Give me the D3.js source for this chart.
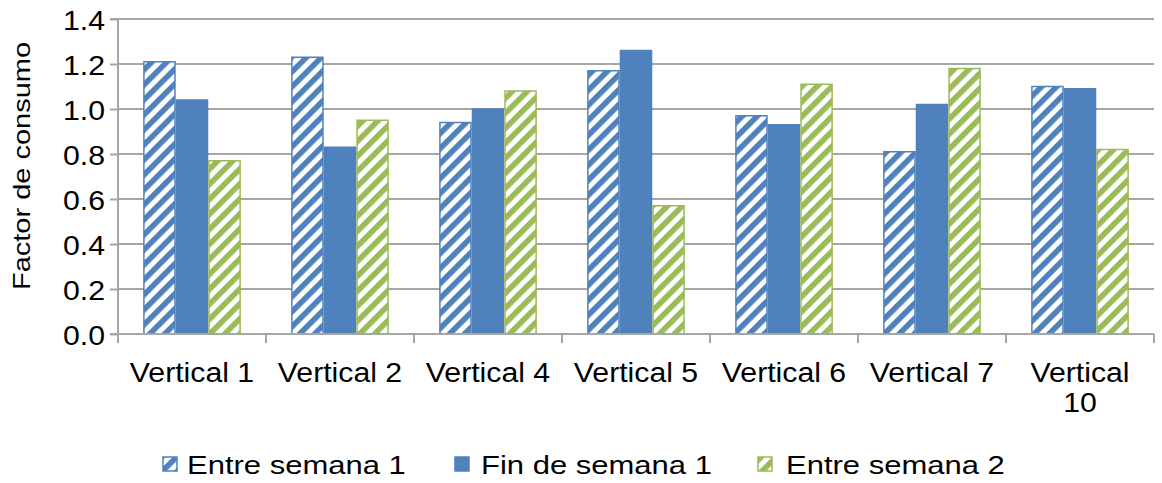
<!DOCTYPE html>
<html><head><meta charset="utf-8">
<script src="https://cdn.jsdelivr.net/npm/d3@7"></script>
<style>body{margin:0;background:#fff}svg{display:block}text{font-family:"Liberation Sans",Arial,sans-serif;fill:#000}</style>
</head><body><svg id="c" width="1162" height="483"></svg>
<script>
const categories = ["Vertical 1","Vertical 2","Vertical 4","Vertical 5","Vertical 6","Vertical 7","Vertical 10"];
const seriesNames = ["Entre semana 1","Fin de semana 1","Entre semana 2"];
const entreSemana1 = [1.21,1.23,0.94,1.17,0.97,0.81,1.10];
const finDeSemana1 = [1.04,0.83,1.00,1.26,0.93,1.02,1.09];
const entreSemana2 = [0.77,0.95,1.08,0.57,1.11,1.18,0.82];
const yTicks = [0,0.2,0.4,0.6,0.8,1.0,1.2,1.4];
const seriesValues = [entreSemana1, finDeSemana1, entreSemana2];

const BLUE = "#4F81BD", GREEN = "#9BBB59", GRID = "#A6A6A6";
const svg = d3.select("#c");
const L = 118, R = 1154, T = 19, B = 334;
const SX = 1.1;

const defs = svg.append("defs");
function hatch(id, color){
  const p = defs.append("pattern").attr("id", id).attr("patternUnits","userSpaceOnUse")
    .attr("width", 10.6).attr("height", 10.6).attr("patternTransform","rotate(45)");
  p.append("rect").attr("width",10.6).attr("height",10.6).attr("fill","#fff");
  p.append("rect").attr("x",0).attr("width",5.6).attr("height",10.6).attr("fill",color);
}
hatch("hb", BLUE); hatch("hg", GREEN);
const fills = ["url(#hb)", BLUE, "url(#hg)"];
const strokes = [BLUE, BLUE, GREEN];

const y = d3.scaleLinear().domain([0,1.4]).range([B,T]);
const x0 = d3.scaleBand().domain(categories).range([L,R]).padding(0);
const x1 = d3.scaleBand().domain(d3.range(3)).range([x0.bandwidth()*0.17, x0.bandwidth()*0.83]).padding(0);

// gridlines
svg.append("g").selectAll("line").data(yTicks.slice(1)).join("line")
  .attr("x1",L).attr("x2",R).attr("y1",d=>y(d)).attr("y2",d=>y(d))
  .attr("stroke",GRID).attr("stroke-width",2);

// y axis
const ya = svg.append("g").attr("transform",`translate(${L},0)`)
  .call(d3.axisLeft(y).tickValues(yTicks).tickFormat(d3.format(".1f")).tickSize(8).tickPadding(0));
ya.select(".domain").attr("stroke",GRID).attr("stroke-width",2).attr("d",`M-8,${T}H0V${B}H-8`);
ya.selectAll(".tick line").attr("stroke",GRID).attr("stroke-width",2);
ya.selectAll(".tick text").each(function(d){
  const t = d3.select(this);
  t.attr("x",null).attr("dy",null).attr("text-anchor","end").attr("fill","#000")
   .attr("font-size",27.5).attr("transform",`translate(-13,${10}) scale(${SX},1)`);
});

// bars
const g = svg.append("g");
categories.forEach((c,i)=>{
  seriesValues.forEach((vals,s)=>{
    g.append("rect")
      .attr("x", x0(c)+x1(s)+0.75).attr("width", x1.bandwidth()-1.5)
      .attr("y", y(vals[i])).attr("height", B - y(vals[i]))
      .attr("fill", fills[s]).attr("stroke", strokes[s]).attr("stroke-width",1.5);
  });
});

// x axis
const xa = svg.append("g").attr("transform",`translate(0,${B})`);
xa.append("line").attr("x1",L).attr("x2",R).attr("stroke",GRID).attr("stroke-width",2);
const bounds = categories.map(c=>x0(c)).concat([R]);
xa.selectAll("line.tk").data(bounds).join("line").attr("class","tk")
  .attr("x1",d=>d).attr("x2",d=>d).attr("y1",0).attr("y2",9).attr("stroke",GRID).attr("stroke-width",2);
categories.forEach(c=>{
  const cx = x0(c)+x0.bandwidth()/2;
  const lines = c === "Vertical 10" ? ["Vertical","10"] : [c];
  lines.forEach((ln,k)=>{
    xa.append("text").attr("text-anchor","middle").attr("font-size",27.5)
      .attr("transform",`translate(${cx},${48+k*30}) scale(${SX},1)`).text(ln);
  });
});

// y title
svg.append("text").attr("text-anchor","middle").attr("font-size",24)
  .attr("transform","translate(30,166) rotate(-90)")
  .attr("textLength",248).attr("lengthAdjust","spacingAndGlyphs").text("Factor de consumo");

// legend
const legX = [163, 455, 758], textX = [187, 481, 786];
seriesNames.forEach((n,s)=>{
  svg.append("rect").attr("x",legX[s]).attr("y",457).attr("width",14).attr("height",14)
    .attr("fill",fills[s]).attr("stroke",strokes[s]).attr("stroke-width",1.5);
  svg.append("text").attr("font-size",25)
    .attr("transform",`translate(${textX[s]},474) scale(1.24,1)`).text(n);
});
</script></body></html>
